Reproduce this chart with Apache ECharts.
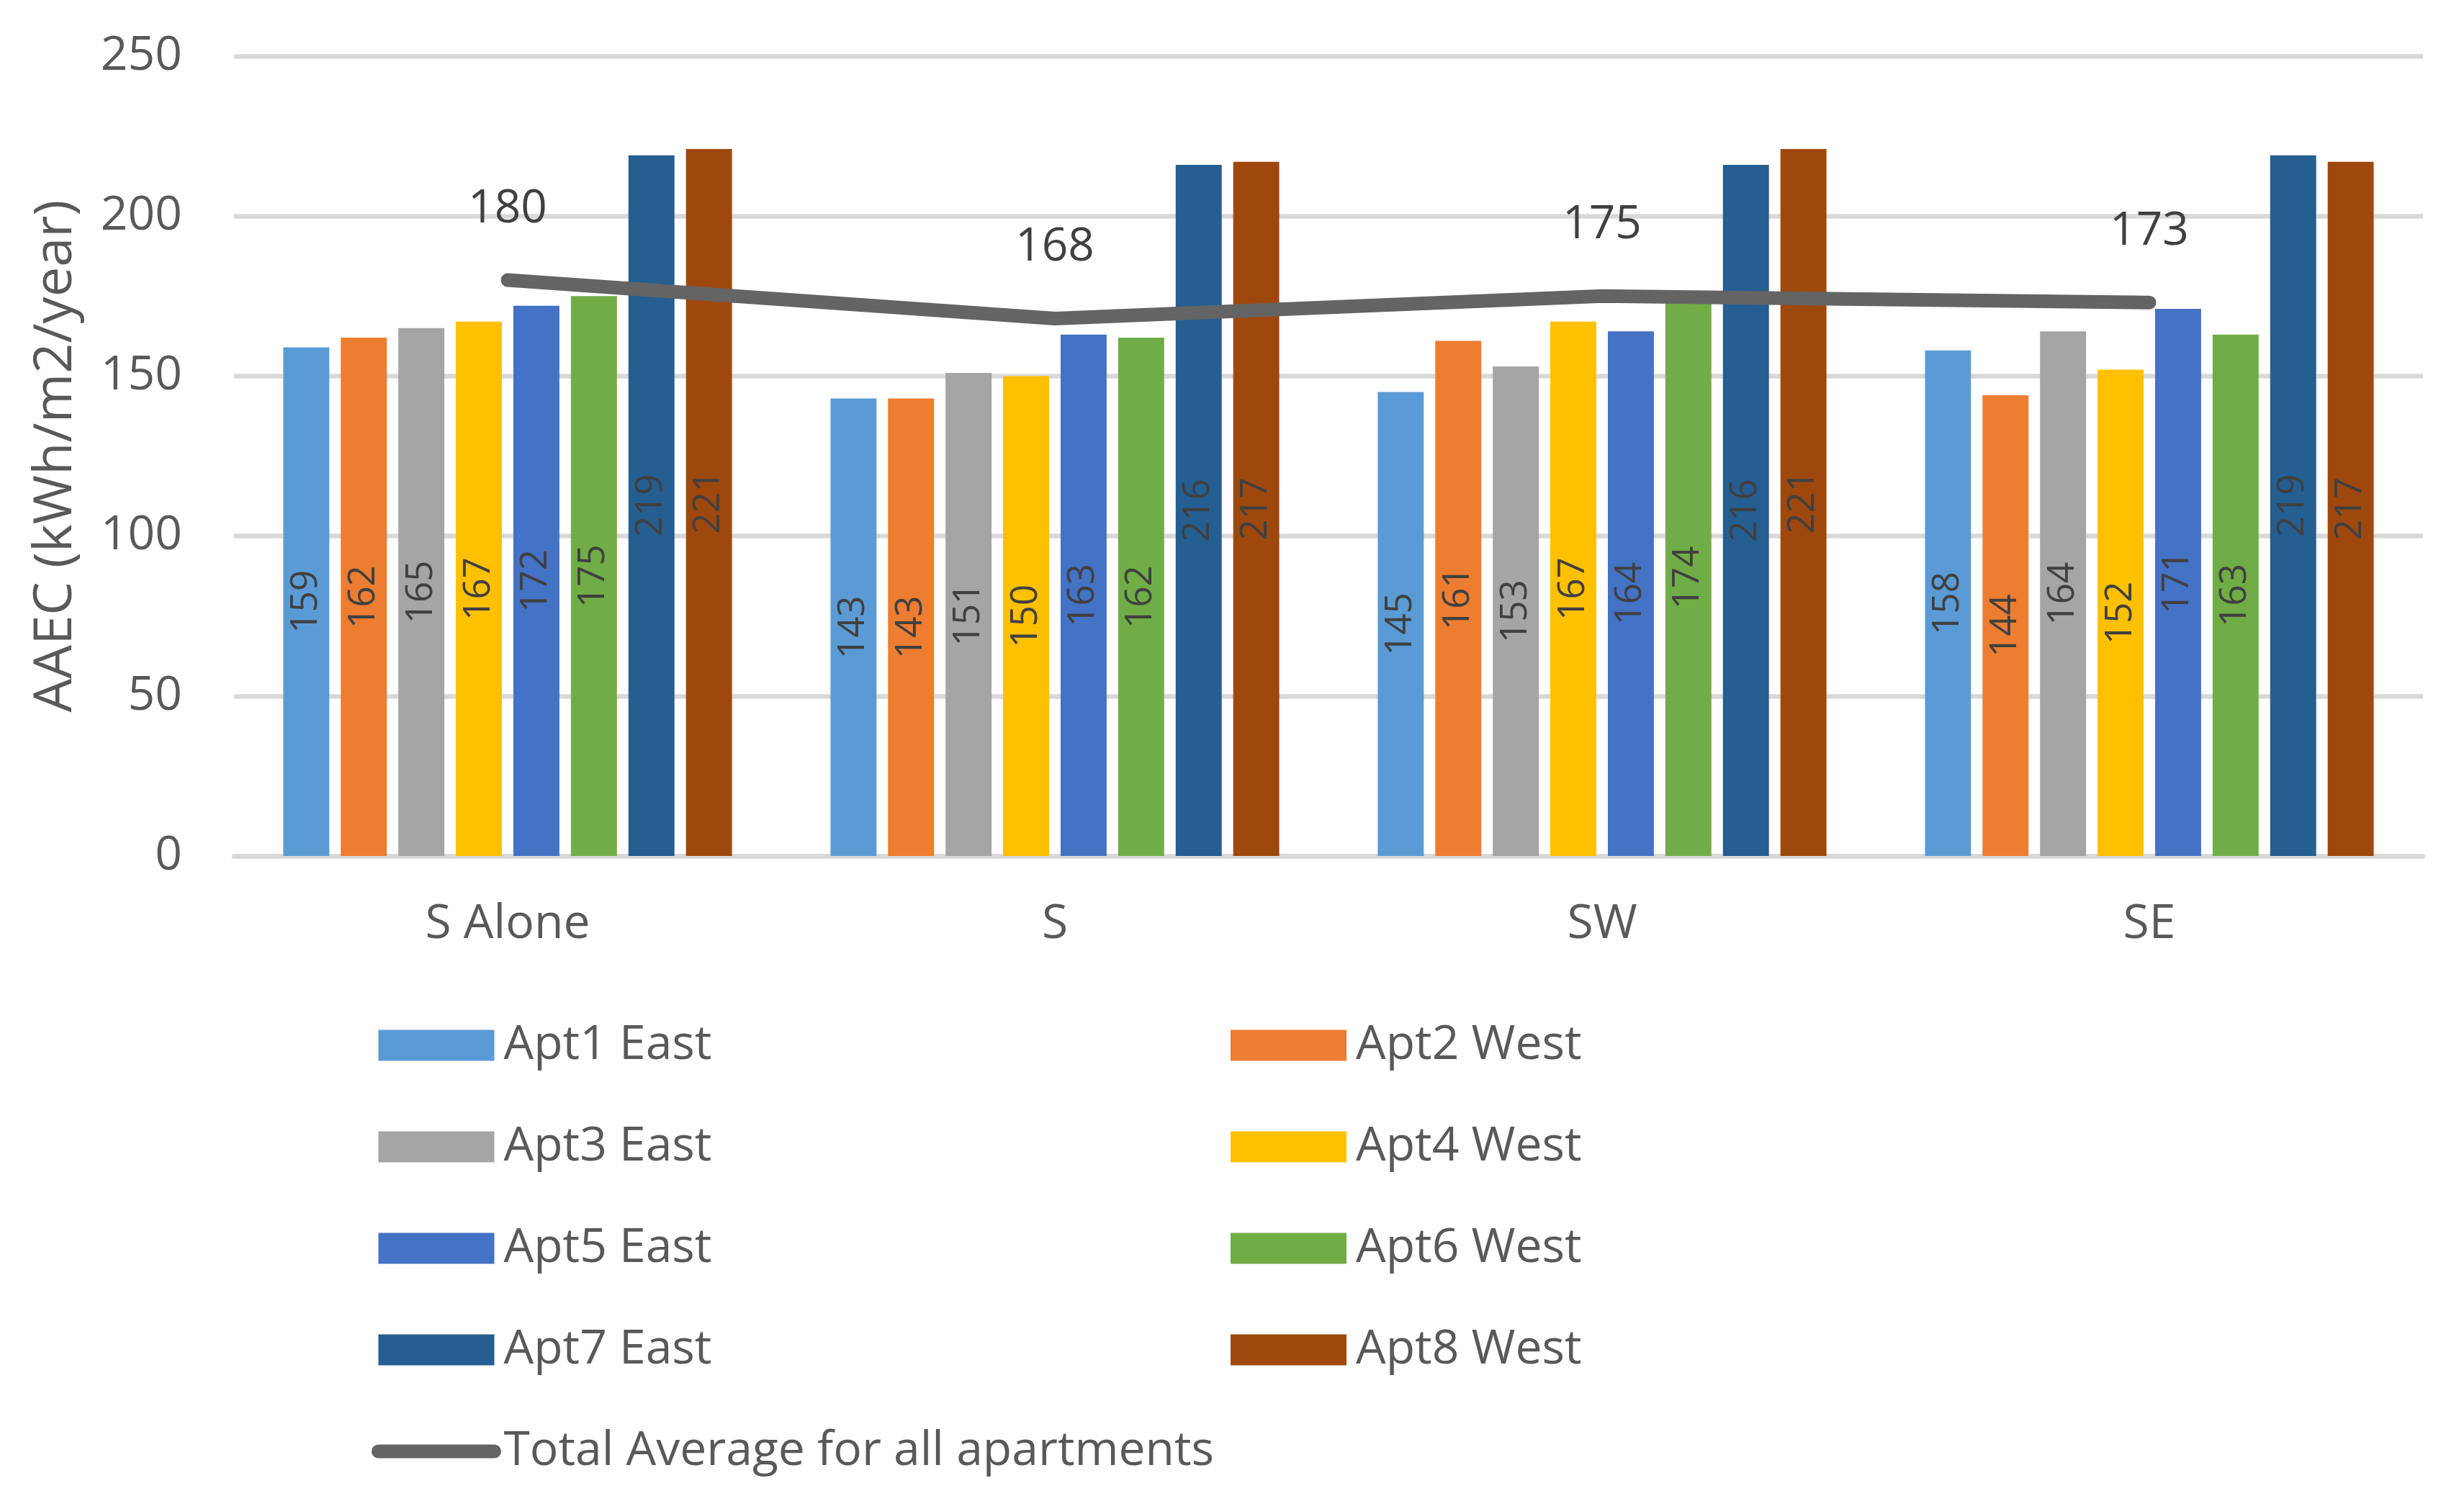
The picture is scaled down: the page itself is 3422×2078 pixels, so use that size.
<!DOCTYPE html>
<html>
<head>
<meta charset="utf-8">
<script src="https://cdn.jsdelivr.net/npm/echarts@6/dist/echarts.min.js"></script>
<style>
html,body{margin:0;padding:0;background:#fff;}
#chart{width:3422px;height:2078px;}
</style>
</head>
<body>
<div id="chart"></div>
<script>
var categories = ['S Alone', 'S', 'SW', 'SE'];
var seriesNames = ['Apt1 East', 'Apt2 West', 'Apt3 East', 'Apt4 West', 'Apt5 East', 'Apt6 West', 'Apt7 East', 'Apt8 West'];
var apt1 = [159, 143, 145, 158];
var apt2 = [162, 143, 161, 144];
var apt3 = [165, 151, 153, 164];
var apt4 = [167, 150, 167, 152];
var apt5 = [172, 163, 164, 171];
var apt6 = [175, 162, 174, 163];
var apt7 = [219, 216, 216, 219];
var apt8 = [221, 217, 221, 217];
var totalAverage = [180, 168, 175, 173];
var lineName = 'Total Average for all apartments';
var yTicks = [0, 50, 100, 150, 200, 250];

var colors = ['#5B9BD5', '#ED7D31', '#A5A5A5', '#FFC000', '#4472C4', '#70AD47', '#255E91', '#9E480E'];
var barValues = [apt1, apt2, apt3, apt4, apt5, apt6, apt7, apt8];
var FONT = 'Open Sans';
var LINE_COLOR = '#646464';

var series = barValues.map(function (vals, i) {
  return {
    name: seriesNames[i],
    type: 'bar',
    data: vals,
    barGap: '25%',
    barCategoryGap: '18%',
    itemStyle: { color: colors[i] },
    label: {
      show: true,
      position: 'inside',
      rotate: 90,
      fontSize: 51,
      fontFamily: FONT,
      color: '#404040'
    }
  };
});
series.push({
  name: lineName,
  type: 'line',
  data: totalAverage,
  symbol: 'circle',
  symbolSize: 1,
  itemStyle: { color: LINE_COLOR },
  lineStyle: { color: LINE_COLOR, width: 19, cap: 'round', join: 'round' },
  label: {
    show: true,
    position: 'top',
    distance: 66,
    fontSize: 64,
    fontFamily: FONT,
    color: '#404040'
  },
  z: 5
});

var legendText = { fontSize: 66, fontFamily: FONT, color: '#595959', lineHeight: 80, padding: [0, 0, 0, 8] };
function legendItems(names) {
  return names.map(function (n) {
    if (n === lineName) {
      return { name: n, itemStyle: { opacity: 0 }, lineStyle: { color: LINE_COLOR, width: 19, cap: 'round' } };
    }
    return { name: n, icon: 'rect' };
  });
}

var chart = echarts.init(document.getElementById('chart'), null, { renderer: 'canvas' });
chart.setOption({
  backgroundColor: '#ffffff',
  animation: false,
  textStyle: { fontFamily: FONT },
  grid: { left: 325, right: 57, top: 78, bottom: 889, containLabel: false },
  legend: [
    {
      orient: 'vertical',
      left: 511,
      top: 1407,
      itemWidth: 161,
      itemHeight: 43,
      itemGap: 61,
      textStyle: legendText,
      data: legendItems([seriesNames[0], seriesNames[2], seriesNames[4], seriesNames[6], lineName])
    },
    {
      orient: 'vertical',
      left: 1704,
      top: 1407,
      itemWidth: 161,
      itemHeight: 43,
      itemGap: 61,
      textStyle: legendText,
      data: legendItems([seriesNames[1], seriesNames[3], seriesNames[5], seriesNames[7]])
    }
  ],
  xAxis: {
    type: 'category',
    data: categories,
    axisTick: { show: false },
    axisLine: { show: true, lineStyle: { color: '#d9d9d9', width: 6.5 } },
    axisLabel: { fontSize: 66, fontFamily: FONT, color: '#595959', margin: 62 }
  },
  yAxis: {
    type: 'value',
    min: yTicks[0],
    max: yTicks[yTicks.length - 1],
    interval: 50,
    name: 'AAEC (kWh/m2/year)',
    nameLocation: 'middle',
    nameGap: 210,
    nameTextStyle: { fontSize: 74, fontFamily: FONT, color: '#595959' },
    axisLine: { show: false },
    axisTick: { show: false },
    axisLabel: { fontSize: 66, fontFamily: FONT, color: '#595959', margin: 72 },
    splitLine: { lineStyle: { color: '#d9d9d9', width: 6.5 } }
  },
  series: series
});
</script>
</body>
</html>
